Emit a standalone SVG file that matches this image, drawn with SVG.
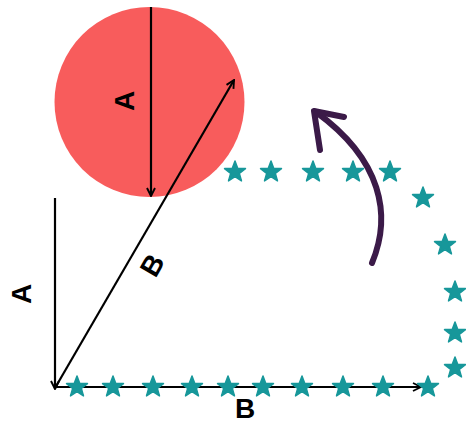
<svg xmlns="http://www.w3.org/2000/svg" width="466" height="423" viewBox="0 0 466 423">
<style>
.ln{stroke:#000;stroke-width:2.2;fill:none}
.lbl{font-family:"Liberation Sans",Arial,sans-serif;font-weight:bold;font-size:28px;fill:#000}
.st{fill:#17979a;stroke:#17979a;stroke-width:1.5;stroke-linejoin:round}
.rot{stroke:#3b1a48;stroke-width:6;fill:none;stroke-linecap:round;stroke-linejoin:round}
</style>
<defs>
<marker id="ah" viewBox="0 0 10 10" refX="9" refY="5" markerWidth="10" markerHeight="10" markerUnits="userSpaceOnUse" orient="auto">
<path d="M1,1 L9,5 L1,9" stroke="#000" stroke-width="1.9" fill="none"/>
</marker>
<path id="star" d="M0,-11 L2.7,-3.72 L10.46,-3.4 L4.37,1.42 L6.47,8.9 L0,4.6 L-6.47,8.9 L-4.37,1.42 L-10.46,-3.4 L-2.7,-3.72 Z"/>
</defs>
<g id="circle">
<circle cx="149.5" cy="102" r="95" fill="#f85c5c"/>
</g>
<g id="connectors">
<line class="ln" x1="151" y1="7" x2="151" y2="196" marker-end="url(#ah)"/>
<line class="ln" x1="55" y1="198" x2="55" y2="389" marker-end="url(#ah)"/>
<line class="ln" x1="55" y1="388" x2="234" y2="80" marker-end="url(#ah)"/>
<line class="ln" x1="56" y1="387" x2="421" y2="387" marker-end="url(#ah)"/>
</g>
<g id="stars">
<use href="#star" class="st" x="235" y="172"/>
<use href="#star" class="st" x="271" y="172"/>
<use href="#star" class="st" x="313" y="172"/>
<use href="#star" class="st" x="353" y="172"/>
<use href="#star" class="st" x="390" y="172"/>
<use href="#star" class="st" x="423" y="198"/>
<use href="#star" class="st" x="445" y="245"/>
<use href="#star" class="st" x="455" y="292"/>
<use href="#star" class="st" x="455" y="333"/>
<use href="#star" class="st" x="455" y="368"/>
<use href="#star" class="st" x="77" y="387"/>
<use href="#star" class="st" x="113" y="387"/>
<use href="#star" class="st" x="153" y="387"/>
<use href="#star" class="st" x="192" y="387"/>
<use href="#star" class="st" x="228" y="387"/>
<use href="#star" class="st" x="263" y="387"/>
<use href="#star" class="st" x="302" y="387"/>
<use href="#star" class="st" x="343" y="387"/>
<use href="#star" class="st" x="383" y="387"/>
<use href="#star" class="st" x="428" y="387"/>
</g>
<g id="rotation-arrow">
<path class="rot" d="M372,263 C392,215 382,160 316,112"/>
<path class="rot" d="M320,150 L314,111 L344,117"/>
</g>
<g id="labels">
<text class="lbl" text-anchor="middle" transform="translate(124,101) rotate(-90)" y="10">A</text>
<text class="lbl" text-anchor="middle" transform="translate(21,294) rotate(-90)" y="10">A</text>
<text class="lbl" text-anchor="middle" transform="translate(152,265) rotate(-60)" y="10">B</text>
<text class="lbl" text-anchor="middle" x="245" y="418">B</text>
</g>
</svg>
